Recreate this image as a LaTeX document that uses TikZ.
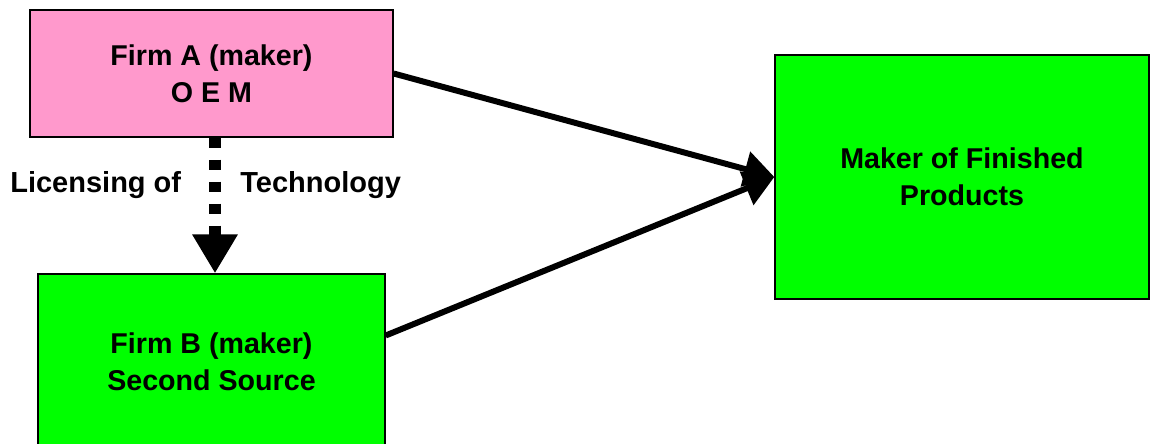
\documentclass[tikz,border=0pt]{standalone}
\usepackage{fontspec}
\setmainfont{Liberation Sans}
\usetikzlibrary{arrows.meta}
\definecolor{oempink}{HTML}{FF99CC}
\definecolor{makergreen}{HTML}{00FF00}
\begin{document}
\begin{tikzpicture}[x=0.02cm, y=-0.02cm,
  firmbox/.style={draw=black, line width=0.8pt, inner sep=0pt, align=center,
    font=\fontsize{16.3}{21}\selectfont\bfseries},
  flowtext/.style={inner sep=0pt, font=\fontsize{16.5}{21}\selectfont\bfseries},
  supply/.style={line width=3.4pt, -{Triangle[length=0.6cm, width=0.7cm]}},
  licence/.style={line width=6.8pt, dash pattern=on 5.7pt off 6.8pt,
    -{Triangle[length=0.78cm, width=0.86cm]}}]
\clip (0,0) rectangle (1151,443);
\node[firmbox, fill=oempink, minimum width=7.26cm, minimum height=2.54cm] (firmA) at (211.5,73.5) {Firm A (maker)\\O E M};
\node[firmbox, fill=makergreen, minimum width=6.94cm, minimum height=3.5cm] (firmB) at (211.5,361.5) {Firm B (maker)\\Second Source};
\node[firmbox, fill=makergreen, minimum width=7.48cm, minimum height=4.88cm] (maker) at (962,177) {Maker of Finished\\Products};
\node[flowtext, anchor=base west] (lic) at (10,192.5) {Licensing of};
\node[flowtext, anchor=base west] (tech) at (240,192.5) {Technology};
% arrows
\draw[licence] ([xshift=0.07cm]firmA.south) -- ([xshift=0.07cm]firmB.north);
\draw[supply] (firmA.east) -- (maker.west);
\draw[supply] ([yshift=0.52cm]firmB.east) -- (maker.west);
\end{tikzpicture}
\end{document}
